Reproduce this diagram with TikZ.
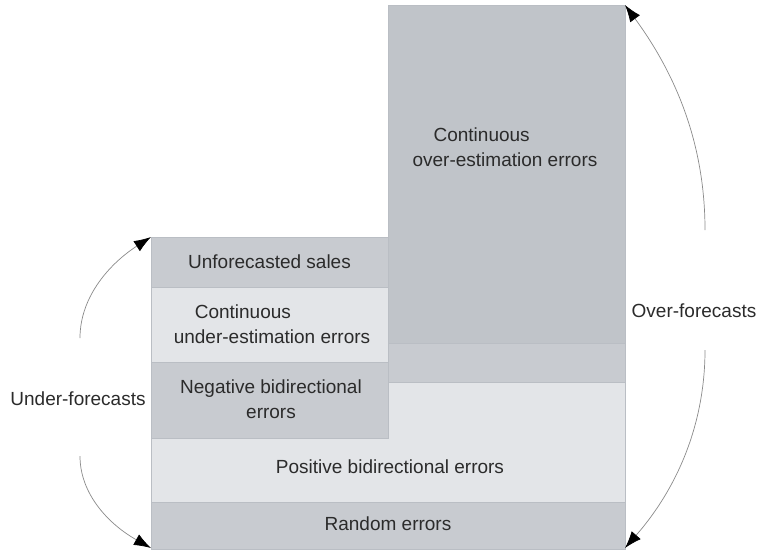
\documentclass[tikz,border=0pt]{standalone}
\usepackage{fontspec}
\setmainfont{Liberation Sans}
\usetikzlibrary{arrows.meta}
\definecolor{darkbox}{HTML}{C0C4C9}
\definecolor{midbox}{HTML}{C8CBD0}
\definecolor{lightbox}{HTML}{E3E5E8}
\definecolor{edgecol}{HTML}{BABEC4}
\definecolor{txtcol}{HTML}{2B2B2B}
\definecolor{arccol}{HTML}{8A8A8A}
\tikzset{
  box/.style={draw=edgecol, line width=0.5pt, inner sep=0pt, outer sep=0pt, anchor=north west},
  lbl/.style={text=txtcol, font=\fontsize{19}{25}\selectfont, inner sep=0pt, align=center},
  lbll/.style={lbl, align=left},
  arcarrow/.style={draw=arccol, line width=0.7pt, -{Latex[length=17pt,width=12pt,black]}},
}
\begin{document}
\begin{tikzpicture}[x=1pt,y=-1pt]
\useasboundingbox (0,0) rectangle (757,550);
% right big box
\node[box, fill=darkbox, minimum width=237pt, minimum height=338pt] (over) at (388,5) {};
% strip under big box
\node[box, fill=midbox, minimum width=237pt, minimum height=39pt] (strip) at (388,343) {};
% positive bidirectional (L-shape)
\fill[lightbox, draw=edgecol, line width=0.5pt] (151,438) -- (388,438) -- (388,382) -- (625,382) -- (625,502) -- (151,502) -- cycle;
% random errors
\node[box, fill=midbox, minimum width=474pt, minimum height=47pt] (rand) at (151,502) {};
% left column
\node[box, fill=midbox, minimum width=237pt, minimum height=50pt] (unf) at (151,237) {};
\node[box, fill=lightbox, minimum width=237pt, minimum height=75pt] (under) at (151,287) {};
\node[box, fill=midbox, minimum width=237pt, minimum height=76pt] (neg) at (151,362) {};

% texts
\node[lbll] (overtxt) at (505,147) {\hspace*{21pt}Continuous\\over-estimation errors};
\node[lbl] (unftxt) at (unf.center) {Unforecasted sales};
\node[lbll] (undertxt) at (272,324) {\hspace*{21pt}Continuous\\under-estimation errors};
\node[lbl] (negtxt) at (271,399) {Negative bidirectional\\errors};
\node[lbl] (postxt) at (390,467) {Positive bidirectional errors};
\node[lbl] (randtxt) at (388,524) {Random errors};
\node[lbl] (uf) at (78,399) {Under-forecasts};
\node[lbl] (of) at (694,311) {Over-forecasts};

% arrows
\coordinate (ufa) at (80,338);
\coordinate (ufb) at (80,456);
\coordinate (ofa) at (705,230);
\coordinate (ofb) at (705,350);
\coordinate (lb) at (151,548);
\coordinate (rb) at (625,548);
\draw[arcarrow] (ufa) .. controls (80,295) and (112,262) .. (unf.north west);
\draw[arcarrow] (ufb) .. controls (80,495) and (110,525) .. (lb);
\draw[arcarrow] (ofa) .. controls (705,150) and (680,80) .. (over.north east);
\draw[arcarrow] (ofb) .. controls (705,420) and (680,485) .. (rb);
\end{tikzpicture}
\end{document}
